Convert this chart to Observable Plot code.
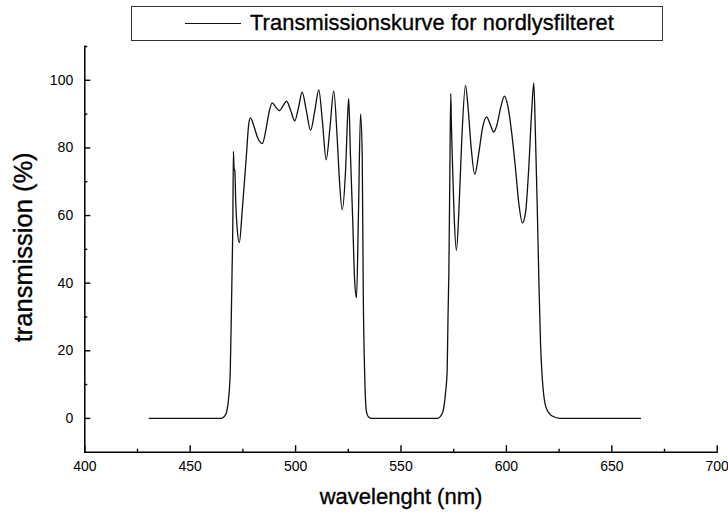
<!DOCTYPE html>
<html>
<head>
<meta charset="utf-8">
<script src="https://cdn.jsdelivr.net/npm/d3@7"></script>
<script src="https://cdn.jsdelivr.net/npm/@observablehq/plot@0.6"></script>
<style>
  html, body { margin: 0; padding: 0; background: #fff; }
  body { width: 728px; height: 514px; overflow: hidden; font-family: "Liberation Sans", Arial, sans-serif; }
  #head { position: relative; height: 44px; width: 728px; }
  #legend { position: absolute; left: 131px; top: 6px; width: 532px; height: 35px; border: 1.3px solid #333; box-sizing: border-box; }
  #legend .sw { position: absolute; left: 53px; top: 16px; width: 56px; height: 0; border-top: 1.2px solid #111; }
  #legend .tx { position: absolute; left: 118px; top: 4px; font-size: 21.8px; line-height: 24px; color: #000; white-space: nowrap; -webkit-text-stroke: 0.35px #000; letter-spacing: 0.1px; }
</style>
</head>
<body>
<div id="head"><div id="legend"><div class="sw"></div><div class="tx" id="legendText"></div></div></div>
<div id="chart"></div>
<script>
const seriesName = "Transmissionskurve for nordlysfilteret";
const xTitle = "wavelenght (nm)";
const yTitle = "transmission (%)";
const xMajorTicks = [400, 450, 500, 550, 600, 650, 700];
const xMinorTicks = [425, 475, 525, 575, 625, 675];
const yMajorTicks = [0, 20, 40, 60, 80, 100];
const yMinorTicks = [10, 30, 50, 70, 90, 110];

const wavelength = [
  430.6, 445, 460, 464.9, 466.5, 467.3, 468.3, 469.0, 469.5, 469.9, 470.2, 470.5, 470.8, 471.2, 471.6, 472.3, 473.3,
  474.7, 476.6, 477.8, 478.6, 480.2, 482.0, 484.2, 485.8, 487.4, 488.9, 490.7, 492.4, 494.1, 495.7, 497.7, 499.6,
  501.4, 503.1, 505.1, 507.1, 509.1, 511.0, 512.7, 514.5, 516.3, 518.1, 519.7, 520.8, 522.1, 523.7, 524.8, 525.2,
  526.0, 527.1, 528.0, 528.9, 529.8, 530.8, 531.6, 532.1, 532.8, 533.6, 534.5, 536.3, 550, 567.3,
  569.6, 571.1, 571.9, 572.3, 572.7, 573.2, 573.6, 573.9, 574.3, 575.2, 576.3, 577.5, 578.8, 580.6, 581.8, 583.3,
  585.0, 586.8, 588.7, 590.6, 592.3, 594.0, 595.6, 597.3, 599.1, 600.8, 602.6, 604.3, 606.0, 607.6, 609.1, 610.6,
  612.0, 613.0, 613.8, 614.6, 615.4, 616.2, 617.0, 617.7, 619.0, 621.7, 625.6, 663.6
];
const transmission = [
  0, 0, 0, 0, 0.8, 2, 6.4, 14, 30, 45, 56, 79, 74, 73, 64, 56, 52,
  61.6, 77.3, 87.2, 88.9, 86.5, 83, 81.3, 85, 90.5, 93.3, 92, 91, 92.5, 93.8, 91, 88,
  92, 96.5, 91, 85.2, 91, 97.2, 88, 76.5, 86, 96.8, 83.2, 70.4, 61.7, 73.4, 91, 94.6,
  78.3, 58.6, 40.9, 35.7, 60, 90.1, 78, 37, 12.3, 2, 0.5, 0, 0, 0,
  1.5, 7.4, 14, 30, 43, 74.4, 96.1, 87.2, 78, 60, 49.7, 62, 82, 98.5, 92, 80,
  72.2, 78, 86, 89.2, 87, 84.7, 87, 92, 95.3, 92, 84, 74, 63, 57.8, 61, 74,
  91, 99.2, 83.2, 63.5, 40.9, 22, 12, 7, 2.9, 0.7, 0, 0
];

document.getElementById("legendText").textContent = seriesName;

const data = wavelength.map((w, i) => ({w, t: transmission[i]}));

const chart = Plot.plot({
  width: 728,
  height: 470,
  marginTop: 2,
  marginBottom: 62.3,
  marginLeft: 84.3,
  marginRight: 11.3,
  style: {fontFamily: "'Liberation Sans', Arial, sans-serif", fontSize: "14px", color: "#000", background: "#fff", overflow: "visible"},
  x: {domain: [400, 700]},
  y: {domain: [-10, 110]},
  marks: [
    Plot.axisX({ticks: xMajorTicks, tickSize: -6.5, tickPadding: 15.5, tickFormat: d => String(d), label: null, strokeWidth: 1.4}),
    Plot.axisX({ticks: xMinorTicks, tickSize: -3, tickFormat: () => "", label: null, strokeWidth: 1.4}),
    Plot.axisY({ticks: yMajorTicks, tickSize: -6, tickPadding: 17.6, tickFormat: d => String(d), label: null, strokeWidth: 1.4}),
    Plot.axisY({ticks: yMinorTicks, tickSize: -3, tickFormat: () => "", label: null, strokeWidth: 1.4}),
    Plot.frame({anchor: "left", strokeWidth: 1.5}),
    Plot.frame({anchor: "bottom", strokeWidth: 1.5}),
    Plot.line(data, {x: "w", y: "t", curve: "monotone-x", stroke: "#111", strokeWidth: 1.3}),
    Plot.text([xTitle], {frameAnchor: "bottom", lineAnchor: "middle", textAnchor: "middle", dy: 45, fontSize: 22, fill: "#000", stroke: "#000", strokeWidth: 0.35}),
    Plot.text([yTitle], {frameAnchor: "left", lineAnchor: "middle", textAnchor: "middle", dx: -61, dy: -2, rotate: -90, fontSize: 25.5, fill: "#000", stroke: "#000", strokeWidth: 0.35})
  ]
});
document.getElementById("chart").appendChild(chart);
</script>
</body>
</html>
